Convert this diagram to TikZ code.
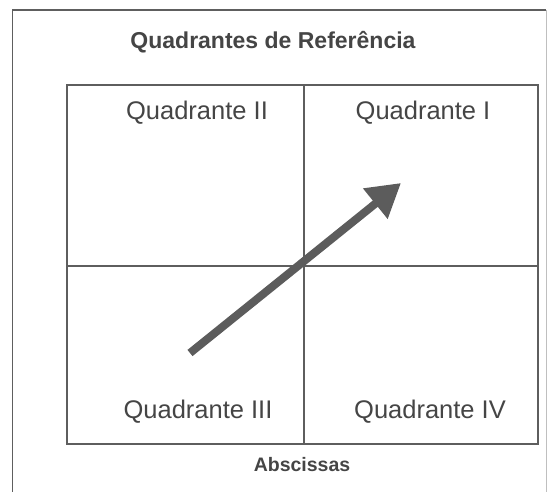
\documentclass[tikz,border=0pt]{standalone}
\usepackage{fontspec}
\setmainfont{Liberation Sans}
\usetikzlibrary{arrows.meta}
\definecolor{linegray}{HTML}{5E5E5E}
\definecolor{textgray}{HTML}{454545}
\definecolor{arrowgray}{HTML}{5C5C5C}
\begin{document}
\begin{tikzpicture}[x=1pt,y=1pt,
  frame/.style={draw=linegray,line width=1.5pt},
  quadlabel/.style={anchor=base,text=textgray,font=\fontsize{25.5}{29}\selectfont,inner sep=0pt},
  titlelabel/.style={anchor=base,text=textgray,font=\bfseries\fontsize{23}{27}\selectfont,inner sep=0pt},
  axislabel/.style={anchor=base,text=textgray,font=\bfseries\fontsize{19.5}{23}\selectfont,inner sep=0pt},
  bigarrow/.style={draw=arrowgray,line width=8pt,-{Triangle[width=37pt,length=33pt]}}]
\useasboundingbox (0,0) rectangle (547,491);
\clip (0,0) rectangle (547,491);
% outer frame (cropped at right and bottom)
\draw[frame] (12.5,-10) -- (12.5,481) -- (546,481);
\draw[draw=linegray!40,line width=0.8pt] (546,481) -- (546,-10);
% inner grid
\draw[frame] (67,47) rectangle (538,406);
\draw[frame] (304,47) -- (304,406);
\draw[frame] (67,225) -- (538,225);
% texts
\node[titlelabel] (title) at (273,442) {Quadrantes de Referência};
\node[quadlabel] (q2) at (197,371) {Quadrante II};
\node[quadlabel] (q1) at (423,371) {Quadrante I};
\node[quadlabel] (q3) at (198,73) {Quadrante III};
\node[quadlabel] (q4) at (430,73) {Quadrante IV};
\node[axislabel] (absc) at (302,20) {Abscissas};
% arrow
\coordinate (astart) at (190,138);
\coordinate (aend) at (401,308);
\draw[bigarrow] (astart) -- (aend);
\end{tikzpicture}
\end{document}
